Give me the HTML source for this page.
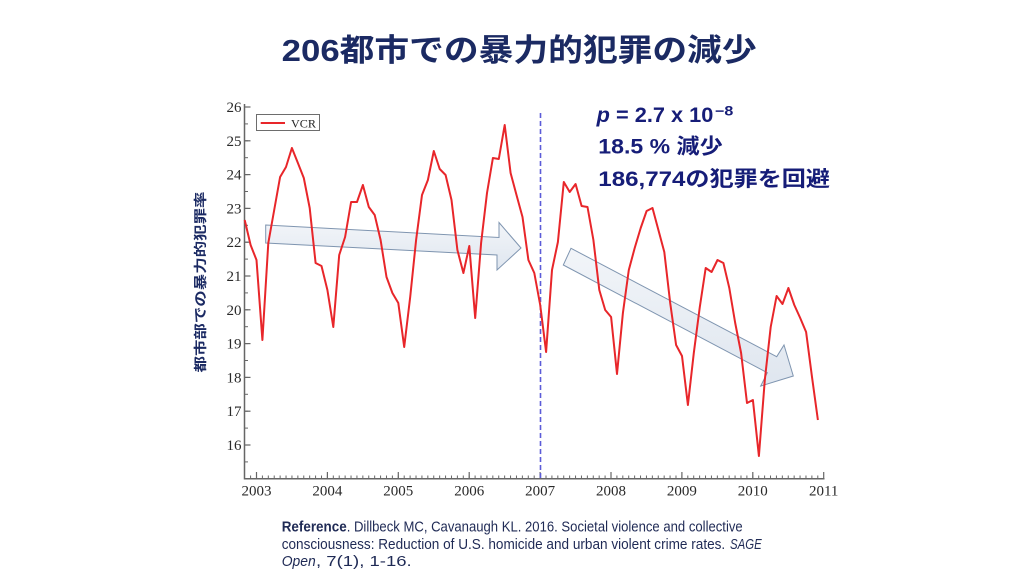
<!DOCTYPE html>
<html>
<head>
<meta charset="utf-8">
<style>
  html, body { margin:0; padding:0; background:#ffffff; }
  body { width:1024px; height:576px; overflow:hidden; }
  svg { display:block; }
</style>
</head>
<body>
<svg width="1024" height="576" viewBox="0 0 1024 576" xmlns="http://www.w3.org/2000/svg">
  <defs>
    <pattern id="xminor" patternUnits="userSpaceOnUse" x="256" y="0" width="5.9083" height="10">
      <rect x="0" y="0" width="1" height="10" fill="#666"/>
    </pattern>
    <pattern id="yminor" patternUnits="userSpaceOnUse" x="0" y="106.5" width="10" height="16.9">
      <rect x="0" y="0" width="10" height="1" fill="#666"/>
    </pattern>
    <linearGradient id="arrowfill" x1="0" y1="0" x2="0" y2="1">
      <stop offset="0" stop-color="#f2f5f9"/>
      <stop offset="1" stop-color="#dfe6ef"/>
    </linearGradient>
  </defs>

  <!-- Title -->
  <text x="281.7" y="61" textLength="475" lengthAdjust="spacingAndGlyphs"
        font-family="'Liberation Sans','Noto Sans CJK JP',sans-serif" font-weight="700"
        font-size="31" fill="#1b2a63">206都市での暴力的犯罪の減少</text>

  <!-- Y axis label -->
  <text transform="translate(205,282) rotate(-90)" text-anchor="middle" textLength="181" lengthAdjust="spacingAndGlyphs"
        font-family="'Liberation Sans','Noto Sans CJK JP',sans-serif" font-weight="700"
        font-size="13" fill="#1b2a63">都市部での暴力的犯罪率</text>

  <!-- Arrows -->
  <polygon points="265.7,225 499,237.5 499,222.5 521,248 497,270 497,255 265.7,243"
           fill="url(#arrowfill)" stroke="#7f95b0" stroke-width="1"/>
  <polygon points="571,248.3 776.7,356.7 784,345 793.3,376 760.7,386 767.3,372.7 563.3,265"
           fill="url(#arrowfill)" stroke="#7f95b0" stroke-width="1"/>

  <!-- Axes -->
  <line x1="244.5" y1="104" x2="244.5" y2="479.5" stroke="#666" stroke-width="1.5"/>
  <line x1="244" y1="478.8" x2="824.5" y2="478.8" stroke="#666" stroke-width="1.5"/>
  <!-- minor ticks -->
  <rect x="249" y="475.5" width="573" height="3.3" fill="url(#xminor)"/>
  <rect x="244.5" y="105" width="3.5" height="374" fill="url(#yminor)"/>
  <!-- major ticks -->
  <g stroke="#666" stroke-width="1.2">
    <line x1="256.5" y1="478" x2="256.5" y2="472"/>
    <line x1="327.4" y1="478" x2="327.4" y2="472"/>
    <line x1="398.3" y1="478" x2="398.3" y2="472"/>
    <line x1="469.2" y1="478" x2="469.2" y2="472"/>
    <line x1="540.1" y1="478" x2="540.1" y2="472"/>
    <line x1="611" y1="478" x2="611" y2="472"/>
    <line x1="681.9" y1="478" x2="681.9" y2="472"/>
    <line x1="752.8" y1="478" x2="752.8" y2="472"/>
    <line x1="823.7" y1="478" x2="823.7" y2="472"/>
    <line x1="244.5" y1="107" x2="250.5" y2="107"/>
    <line x1="244.5" y1="140.8" x2="250.5" y2="140.8"/>
    <line x1="244.5" y1="174.6" x2="250.5" y2="174.6"/>
    <line x1="244.5" y1="208.4" x2="250.5" y2="208.4"/>
    <line x1="244.5" y1="242.2" x2="250.5" y2="242.2"/>
    <line x1="244.5" y1="276" x2="250.5" y2="276"/>
    <line x1="244.5" y1="309.8" x2="250.5" y2="309.8"/>
    <line x1="244.5" y1="343.6" x2="250.5" y2="343.6"/>
    <line x1="244.5" y1="377.4" x2="250.5" y2="377.4"/>
    <line x1="244.5" y1="411.2" x2="250.5" y2="411.2"/>
    <line x1="244.5" y1="445" x2="250.5" y2="445"/>
  </g>

  <!-- Y tick labels -->
  <g font-family="'Liberation Serif',serif" font-size="15" fill="#2a2a2a" text-anchor="end">
    <text x="241.5" y="112">26</text>
    <text x="241.5" y="145.8">25</text>
    <text x="241.5" y="179.6">24</text>
    <text x="241.5" y="213.4">23</text>
    <text x="241.5" y="247.2">22</text>
    <text x="241.5" y="281">21</text>
    <text x="241.5" y="314.8">20</text>
    <text x="241.5" y="348.6">19</text>
    <text x="241.5" y="382.4">18</text>
    <text x="241.5" y="416.2">17</text>
    <text x="241.5" y="450">16</text>
  </g>
  <!-- X tick labels -->
  <g font-family="'Liberation Serif',serif" font-size="15" fill="#2a2a2a" text-anchor="middle">
    <text x="256.5" y="495.5">2003</text>
    <text x="327.4" y="495.5">2004</text>
    <text x="398.3" y="495.5">2005</text>
    <text x="469.2" y="495.5">2006</text>
    <text x="540.1" y="495.5">2007</text>
    <text x="611" y="495.5">2008</text>
    <text x="681.9" y="495.5">2009</text>
    <text x="752.8" y="495.5">2010</text>
    <text x="823.7" y="495.5">2011</text>
  </g>

  <!-- Dashed vertical line -->
  <line x1="540.5" y1="113" x2="540.5" y2="478" stroke="#5c5cd8" stroke-width="1.6" stroke-dasharray="5,3"/>

  <!-- VCR series -->
  <polyline fill="none" stroke="#e8262a" stroke-width="2" stroke-linejoin="round"
    points="244.7,220 250.6,245 256.5,260 262.4,340 268.3,243 274.2,210 280.1,177 286.0,167 291.9,148 297.9,163 303.8,178 309.7,208 315.6,263 321.5,266 327.4,290 333.3,327 339.2,255 345.1,237 351.1,202 357.0,202 362.9,185 368.8,207 374.7,215 380.6,240 386.5,277 392.4,293 398.3,303 404.2,347 410.2,297 416.1,240 422.0,195 427.9,180 433.8,151 439.7,169 445.6,175 451.5,200 457.4,250 463.4,273 469.3,246 475.2,318 481.1,243 487.0,193 492.9,158 498.8,159 504.7,125 510.6,173 516.5,195 522.5,217 528.4,260 534.3,273 540.2,305 546.1,352 552.0,270 557.9,242 563.8,182 569.7,192 575.6,184 581.6,206 587.5,207 593.4,240 599.3,290 605.2,310 611.1,317 617.0,374 622.9,313 628.8,270 634.7,248 640.7,228 646.6,211 652.5,208 658.4,230 664.3,252 670.2,303 676.1,345 682.0,356 687.9,405 693.8,353 699.8,307 705.7,268 711.6,272 717.5,260 723.4,263 729.3,288 735.2,323 741.1,353 747.0,403 752.9,400 758.9,456 764.8,380 770.7,327 776.6,296 782.5,304 788.4,288 794.3,305 800.2,318 806.1,332 812.0,377 817.9,420"/>

  <!-- Legend -->
  <rect x="256.5" y="114.5" width="63" height="16" fill="#ffffff" stroke="#6d6d6d" stroke-width="1"/>
  <line x1="260.7" y1="123" x2="285" y2="123" stroke="#e8262a" stroke-width="2"/>
  <text x="291" y="127.5" textLength="25" lengthAdjust="spacingAndGlyphs"
        font-family="'Liberation Serif',serif" font-size="11.5" fill="#222">VCR</text>

  <!-- Annotation -->
  <g font-family="'Liberation Sans','Noto Sans CJK JP',sans-serif" font-weight="700" fill="#161d78">
    <text x="596.7" y="122" font-size="21" textLength="116.6" lengthAdjust="spacingAndGlyphs"><tspan font-style="italic">p</tspan> = 2.7 x 10</text>
    <text x="715" y="115.5" font-size="13.5" font-family="'Liberation Sans',sans-serif" textLength="18.3" lengthAdjust="spacingAndGlyphs">−8</text>
    <text x="598.3" y="153.5" font-size="21" textLength="124.4" lengthAdjust="spacingAndGlyphs">18.5 % 減少</text>
    <text x="598.3" y="186" font-size="21" textLength="231.7" lengthAdjust="spacingAndGlyphs">186,774の犯罪を回避</text>
  </g>

  <!-- Reference -->
  <g font-family="'Liberation Sans',sans-serif" font-size="14.5" fill="#1f2a55">
    <text x="281.7" y="531.7" font-weight="700" textLength="65" lengthAdjust="spacingAndGlyphs">Reference</text>
    <text x="346.7" y="531.7" textLength="396" lengthAdjust="spacingAndGlyphs">. Dillbeck MC, Cavanaugh KL. 2016. Societal violence and collective</text>
    <text x="281.7" y="549" textLength="443.5" lengthAdjust="spacingAndGlyphs">consciousness: Reduction of U.S. homicide and urban violent crime rates.</text>
    <text x="730" y="549" font-style="italic" textLength="31.7" lengthAdjust="spacingAndGlyphs">SAGE</text>
    <text x="281.7" y="566" font-style="italic" textLength="34" lengthAdjust="spacingAndGlyphs">Open</text>
    <text x="316" y="566" textLength="95.7" lengthAdjust="spacingAndGlyphs">, 7(1), 1-16.</text>
  </g>
</svg>
</body>
</html>
